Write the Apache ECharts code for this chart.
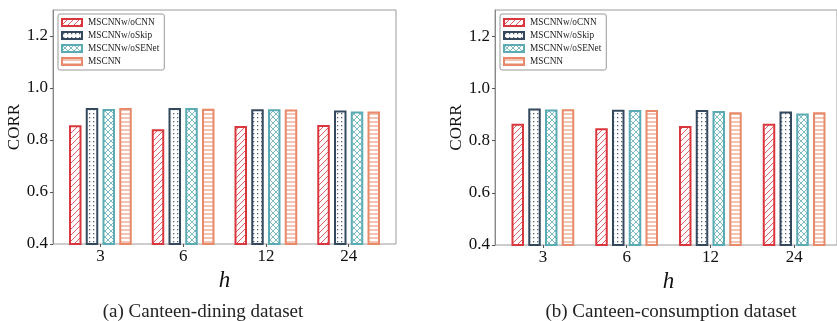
<!DOCTYPE html>
<html><head><meta charset="utf-8">
<script src="https://cdn.jsdelivr.net/npm/echarts@6/dist/echarts.min.js"></script>
<style>html,body{margin:0;padding:0;background:#fff}#c{width:837px;height:321px}</style>
</head><body><div id="c"></div>
<script>
const categories = ['3', '6', '12', '24'];
const seriesNames = ['MSCNNw/oCNN', 'MSCNNw/oSkip', 'MSCNNw/oSENet', 'MSCNN'];
const diningCNN   = [0.857, 0.841, 0.854, 0.858];
const diningSkip  = [0.923, 0.923, 0.918, 0.913];
const diningSENet = [0.919, 0.923, 0.918, 0.910];
const diningMSCNN = [0.923, 0.920, 0.917, 0.910];
const consCNN   = [0.864, 0.847, 0.856, 0.864];
const consSkip  = [0.923, 0.918, 0.917, 0.911];
const consSENet = [0.919, 0.917, 0.913, 0.904];
const consMSCNN = [0.920, 0.917, 0.908, 0.908];
const yTicks = [0.4, 0.6, 0.8, 1.0, 1.2];
const captions = ['(a) Canteen-dining dataset', '(b) Canteen-consumption dataset'];

const colors = ['#d9373d', '#34495e', '#5aabb3', '#e8896a'];
const patterns = ['diag', 'dots', 'cross', 'hline'];

function makePattern(type, color) {
  const s = type === 'dots' ? 4 : (type === 'hline' ? 4 : 6);
  const c = document.createElement('canvas');
  c.width = s; c.height = s;
  const g = c.getContext('2d');
  g.fillStyle = '#fff'; g.fillRect(0, 0, s, s);
  g.strokeStyle = color; g.fillStyle = color; g.lineWidth = 0.8;
  if (type === 'diag' || type === 'cross') {
    g.beginPath();
    g.moveTo(-1, s + 1); g.lineTo(s + 1, -1);
    g.moveTo(-1, 1); g.lineTo(1, -1);
    g.moveTo(s - 1, s + 1); g.lineTo(s + 1, s - 1);
    if (type === 'cross') {
      g.moveTo(-1, -1); g.lineTo(s + 1, s + 1);
      g.moveTo(s - 1, -1); g.lineTo(s + 1, 1);
      g.moveTo(-1, s - 1); g.lineTo(1, s + 1);
    }
    g.stroke();
  } else if (type === 'dots') {
    g.globalAlpha = 0.85;
    g.fillRect(1, 1, 1.3, 1.3);
  } else if (type === 'hline') {
    g.fillRect(0, 1.5, s, 1);
  }
  return { image: c, repeat: 'repeat' };
}

const fills = colors.map((col, i) => makePattern(patterns[i], col));

// frame grids (axes box) and data grids (bar placement)
const frames = [
  { left: 53, top: 10, width: 343, height: 234 },
  { left: 495, top: 10, width: 343, height: 235 }
];
const dataGrids = [
  { left: 59, top: 10, width: 331, height: 234 },
  { left: 501, top: 10, width: 335, height: 235 }
];
const data = [
  [diningCNN, diningSkip, diningSENet, diningMSCNN],
  [consCNN, consSkip, consSENet, consMSCNN]
];
const serif = 'Liberation Serif';

const grid = [], xAxis = [], yAxis = [];
for (let p = 0; p < 2; p++) {
  grid.push(Object.assign({ show: true, borderColor: '#9a9a9a', borderWidth: 1, backgroundColor: 'transparent' }, frames[p]));
  grid.push(Object.assign({ show: false }, dataGrids[p]));
  xAxis.push({ type: 'category', gridIndex: 2 * p, data: categories, show: false });
  xAxis.push({
    type: 'category', gridIndex: 2 * p + 1, data: categories,
    name: 'h', nameLocation: 'middle', nameGap: 18,
    nameTextStyle: { fontFamily: serif, fontStyle: 'italic', fontSize: 23, color: '#111' },
    axisLine: { show: false },
    axisTick: { show: true, alignWithLabel: true, length: 3, lineStyle: { color: '#555' } },
    axisLabel: { fontFamily: serif, fontSize: 17, color: '#111', margin: 4 }
  });
  yAxis.push({
    type: 'value', gridIndex: 2 * p, min: 0.4, max: 1.3, interval: 0.2,
    name: 'CORR', nameLocation: 'middle', nameGap: 28,
    nameTextStyle: { fontFamily: serif, fontSize: 17, color: '#111' },
    splitLine: { show: false },
    axisLine: { show: true, lineStyle: { color: '#888' } },
    axisTick: { show: true, length: 3, lineStyle: { color: '#555' } },
    axisLabel: { fontFamily: serif, fontSize: 17, color: '#111', margin: 5, showMaxLabel: false,
      formatter: v => (Math.abs(v - 1.3) < 1e-6 ? '' : v.toFixed(1)) }
  });
  yAxis.push({ type: 'value', gridIndex: 2 * p + 1, min: 0.4, max: 1.3, interval: 0.2, show: false, splitLine: { show: false } });
}

const option = {
  animation: false,
  backgroundColor: '#fff',
  grid, xAxis, yAxis,
  legend: [
    { left: 58, top: 14 },
    { left: 500, top: 14 }
  ].map(p => Object.assign({
    data: seriesNames, orient: 'vertical', icon: 'rect',
    itemWidth: 20, itemHeight: 7, itemGap: 2,
    padding: [3, 5, 3, 3],
    backgroundColor: '#fff', borderColor: '#999', borderWidth: 1, borderRadius: 2,
    textStyle: { fontFamily: serif, fontSize: 9.3, lineHeight: 11, color: '#222', padding: [0, 0, 0, 1] }
  }, p)),
  series: [],
  graphic: [
    { type: 'text', x: 203, y: 303, style: { text: captions[0], font: '19px "Liberation Serif"', fill: '#222', textAlign: 'center' } },
    { type: 'text', x: 671, y: 303, style: { text: captions[1], font: '19px "Liberation Serif"', fill: '#222', textAlign: 'center' } }
  ]
};

for (let gi = 0; gi < 2; gi++) {
  for (let s = 0; s < 4; s++) {
    option.series.push({
      type: 'bar', name: seriesNames[s], xAxisIndex: 2 * gi + 1, yAxisIndex: 2 * gi + 1,
      data: data[gi][s], barWidth: 12.5, barGap: '34%',
      itemStyle: { color: fills[s], borderColor: colors[s], borderWidth: 2 }
    });
  }
}
const chart = echarts.init(document.getElementById('c'), null, { renderer: 'canvas' });
chart.setOption(option);
</script></body></html>
